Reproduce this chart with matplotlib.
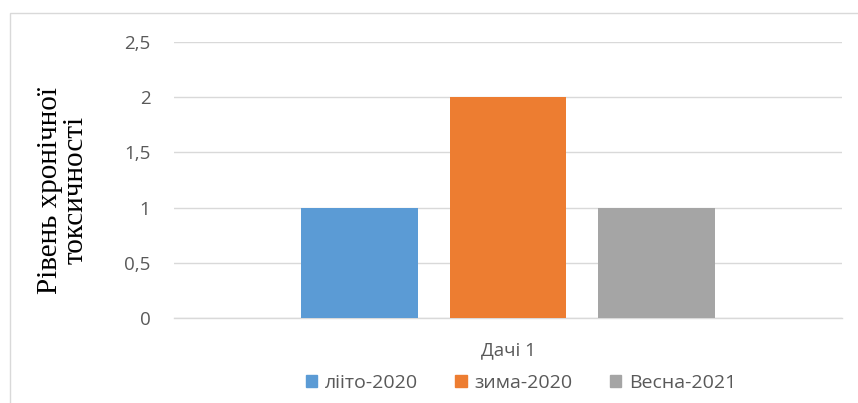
import matplotlib
matplotlib.use('Agg')
import matplotlib.pyplot as plt
from matplotlib.patches import Patch, Rectangle

# data
category = 'Дачі 1'
series = ['лііто-2020', 'зима-2020', 'Весна-2021']
values = [1, 2, 1]
colors = ['#5B9BD5', '#ED7D31', '#A5A5A5']
yticks = [0, 0.5, 1, 1.5, 2, 2.5]
ytick_labels = ['0', '0,5', '1', '1,5', '2', '2,5']

plt.rcParams['font.family'] = ['Open Sans', 'DejaVu Sans']
txt = '#595959'
fs = 13.5

fig = plt.figure(figsize=(8.58, 4.03), dpi=100)
ax = fig.add_axes([174/858, 1 - 318/403, (842 - 174)/858, (318 - 42)/403])

width = 0.175
offsets = [-0.222, 0, 0.222]
for name, v, c, off in zip(series, values, colors, offsets):
    ax.bar(off, v, width=width, color=c, label=name, zorder=3)

ax.set_xlim(-0.5, 0.5)
ax.set_ylim(0, 2.5)
ax.set_yticks(yticks)
ax.set_yticklabels(ytick_labels, fontsize=fs, color=txt)
ax.set_xticks([0])
ax.set_xticklabels([category], fontsize=fs, color=txt)
ax.tick_params(axis='y', length=0, pad=17)
ax.tick_params(axis='x', length=0, pad=17)
ax.grid(axis='y', color='#D9D9D9', linewidth=1, zorder=0)
for s in ['top', 'right', 'left']:
    ax.spines[s].set_visible(False)
ax.spines['bottom'].set_color('#D9D9D9')
ax.spines['bottom'].set_linewidth(1)

fig.text(63/858, 1 - 190/403, 'Рівень хронічної\nтоксичності', rotation=90,
         ha='center', va='center', fontsize=21, family='Liberation Serif',
         linespacing=1.0)

handles = [Patch(color=c, label=n) for n, c in zip(series, colors)]
fig.legend(handles=handles, loc='center', bbox_to_anchor=(521/858, 1 - 383/403),
           ncol=3, frameon=False, fontsize=14, labelcolor=txt,
           handlelength=0.6, handleheight=0.6, handletextpad=0.4,
           columnspacing=1.9)

fig.patches.append(Rectangle((10/858, -0.1), 1.2, 1.1 - 13/403, transform=fig.transFigure,
                             fill=False, edgecolor='#D9D9D9', linewidth=1))

fig.savefig('out.png', dpi=100)
